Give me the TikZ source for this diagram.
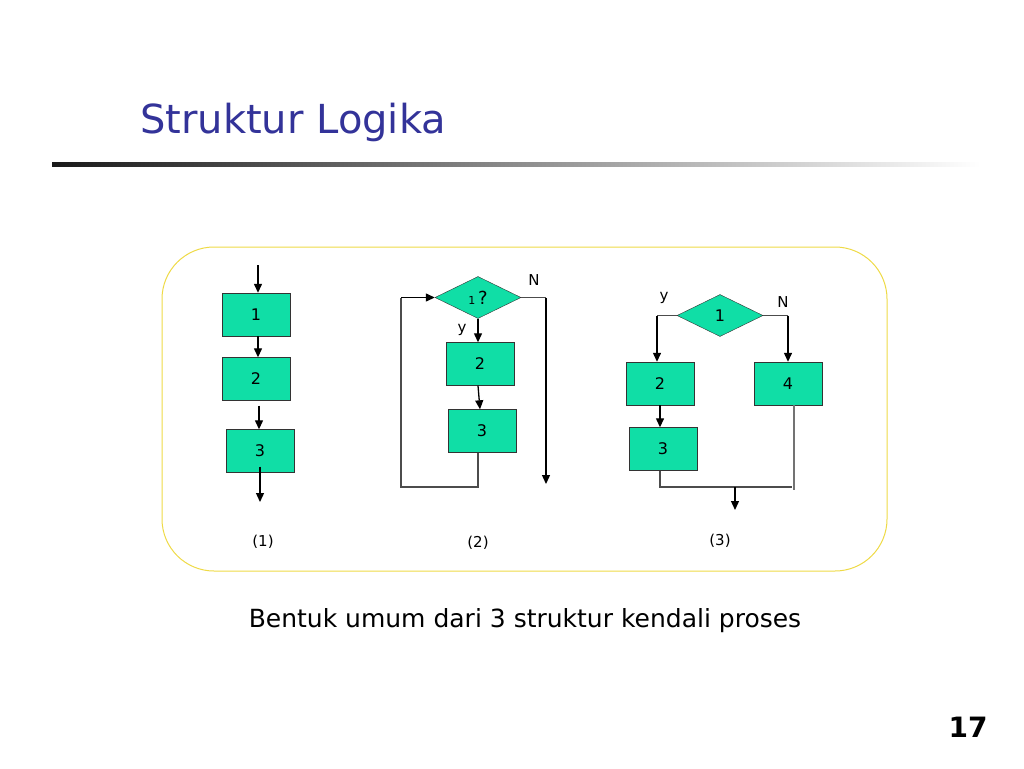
\documentclass[tikz,border=0pt]{standalone}
\usepackage{fontspec}
\setmainfont{DejaVu Sans}
\usetikzlibrary{arrows.meta,shapes.geometric}
\definecolor{titleblue}{RGB}{51,51,153}
\definecolor{boxgreen}{RGB}{16,222,166}
\definecolor{framegold}{RGB}{238,218,70}
\tikzset{
  procbox/.style={draw=black!80,fill=boxgreen,minimum width=68pt,minimum height=43pt,inner sep=0pt,font=\fontsize{16}{18}\selectfont},
  decbox/.style={diamond,draw=black!80,fill=boxgreen,minimum width=86pt,minimum height=42pt,inner sep=0pt,aspect=2,font=\fontsize{16}{18}\selectfont},
  flow/.style={-{Triangle[length=9pt,width=8pt]},line width=1.3pt},
  wire/.style={line width=1.3pt,draw=black!70},
  lbl/.style={font=\fontsize{15}{17}\selectfont,inner sep=0pt}
}
\begin{document}
\begin{tikzpicture}[x=1pt,y=-1pt]
    \useasboundingbox (0,0) rectangle (1024,768);
    \node[anchor=base west,text=titleblue,font=\fontsize{40}{44}\selectfont,inner sep=0pt] (title) at (140,133) {Struktur Logika};
    \shade[left color=black!90,right color=white] (52,162) rectangle (980,166);
    \draw[framegold,line width=1pt,rounded corners=52pt] (162,247) rectangle (887,571);

    \coordinate (in1) at (258,265);
    \node[procbox] (a1) at (256,314.5) {1};
    \node[procbox] (a2) at (256,379) {2};
    \node[procbox] (a3) at (260,451) {3};
    \coordinate (out1) at (260,502);
    \draw[flow] (in1) -- (a1.north -| in1);
    \draw[flow] (a1.south -| in1) -- (a2.north -| in1);
    \draw[flow] ([xshift=3pt]a2.south) ++(0,5) -- ([xshift=-1pt]a3.north);
    \draw[flow] ([yshift=6pt]a3.south) -- (out1);
    \node[lbl] (c1) at (263,542) {(1)};

    \node[decbox] (b1) at (478,297.5) {{\fontsize{11}{12}\selectfont 1}\,{\fontsize{18}{20}\selectfont ?}};
    \node[procbox] (b2) at (480,364) {2};
    \node[procbox] (b3) at (482,431) {3};
    \coordinate (b3end) at (478,487);
    \coordinate (bleft) at (401,487);
    \coordinate (bright) at (546,297.5);
    \coordinate (bout) at (546,484);
    \draw[flow] (b1.south) -- (b1.south |- b2.north);
    \draw[flow] ([xshift=-2pt]b2.south) -- ([xshift=-2pt]b3.north);
    \draw[wire] (b3.south -| b3end) -- (b3end) -- (bleft) -- (bleft |- b1.west);
    \draw[flow] (bleft |- b1.west) -- (b1.west);
    \draw[wire] (b1.east) -- (bright);
    \draw[flow] (bright) -- (bout);
    \node[lbl] at (462,330) (by) {y};
    \node[lbl] at (534,280) (bn) {N};
    \node[lbl] (c2) at (478,543) {(2)};

    \node[decbox] (d1) at (720,315.5) {1};
    \node[procbox] (d2) at (660,383.5) {2};
    \node[procbox] (d4) at (788,383.5) {4};
    \node[procbox] (d3) at (663,449) {3};
    \coordinate (dl) at (657,315.5);
    \coordinate (dr) at (788,315.5);
    \coordinate (dj) at (660,487);
    \coordinate (dk) at (792,487);
    \coordinate (djoin) at (735,487);
    \coordinate (dout) at (735,510);
    \draw[wire] (d1.west) -- (dl);
    \draw[flow] (dl) -- (dl |- d2.north);
    \draw[wire] (d1.east) -- (dr);
    \draw[flow] (dr) -- (d4.north);
    \draw[flow] (d2.south) -- (d2.south |- d3.north);
    \draw[wire] (d3.south -| dj) -- (dj) -- (dk);
    \draw[wire,black!55] (d4.south -| 794,0) -- (794,490);
    \draw[flow] (djoin) -- (dout);
    \node[lbl] at (664,298) (dy) {y};
    \node[lbl] at (783,302) (dn) {N};
    \node[lbl] (c3) at (720,541) {(3)};

    \node[font=\fontsize{25}{28}\selectfont,inner sep=0pt] (caption) at (525,621) {Bentuk umum dari 3 struktur kendali proses};
    \node[font=\bfseries\fontsize{28}{32}\selectfont,inner sep=0pt] (page) at (968,727) {17};
\end{tikzpicture}
\end{document}
